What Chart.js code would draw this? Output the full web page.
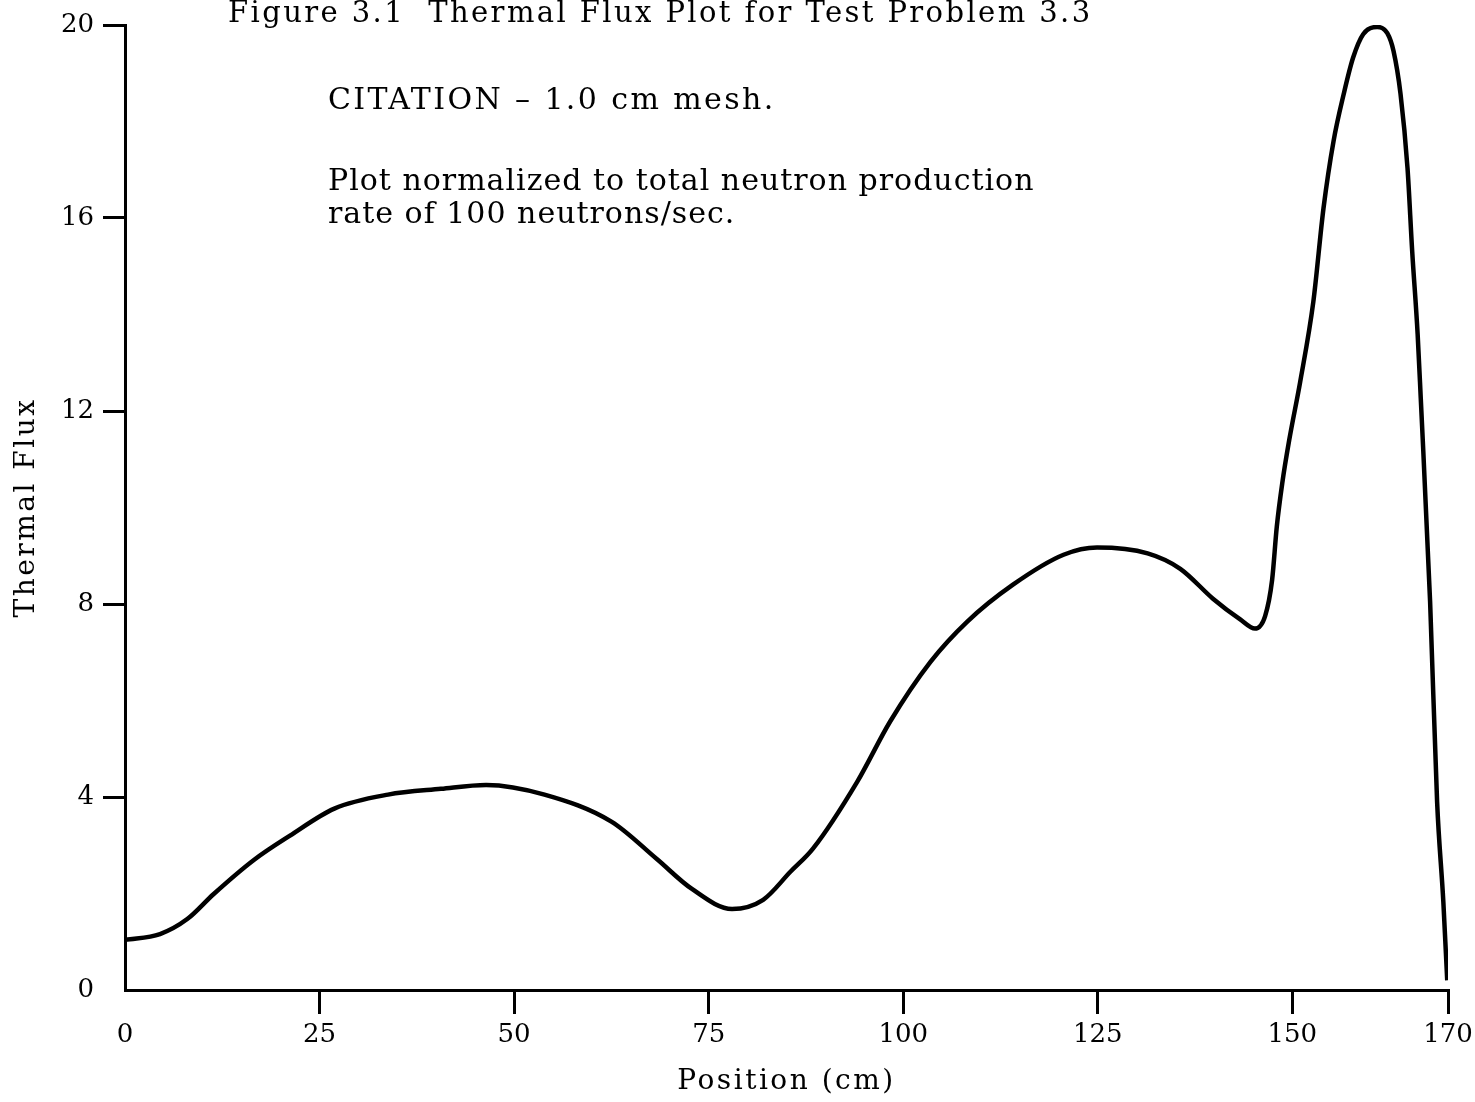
<!DOCTYPE html>
<html>
<head>
<meta charset="utf-8">
<title>Thermal Flux Plot</title>
<script src="https://cdn.jsdelivr.net/npm/chart.js@4.4.1/dist/chart.umd.min.js"></script>
<style>
  html, body { margin: 0; padding: 0; background: #fff; }
  #wrap { width: 1475px; height: 1102px; position: relative; }
</style>
</head>
<body>
<div id="wrap"><canvas id="fluxChart"></canvas></div>
<script>
// values
const positions = [0, 4.5, 8.0, 11.4, 16.6, 21.2, 26.9, 33.8, 40.6, 46.4, 53.9, 62.5, 68.3, 72.8, 78.0,
    82.0, 85.5, 88.4, 94.1, 98.3, 103.5, 108.2, 114.1, 120.6, 124.9, 131.4, 135.6, 139.8, 143.3,
    145.2, 146.5, 147.4, 148.0, 148.7, 149.6, 151.0, 152.7, 154.0, 155.3, 156.6, 157.8, 159.1,
    160.9, 162.2, 163.0, 163.9, 164.8, 165.4, 166.1, 166.5, 167.7, 168.6, 169.4, 169.9];
const thermalFlux = [1.04, 1.16, 1.47, 1.99, 2.70, 3.20, 3.76, 4.05, 4.17, 4.25, 4.05, 3.49, 2.72, 2.10, 1.68,
    1.87, 2.45, 2.93, 4.32, 5.56, 6.80, 7.63, 8.40, 9.02, 9.17, 9.05, 8.73, 8.11, 7.68,
    7.49, 7.75, 8.5, 9.6, 10.5, 11.4, 12.6, 14.27, 16.2, 17.6, 18.57, 19.32, 19.81,
    19.96, 19.83, 19.46, 18.57, 17.03, 15.31, 13.59, 12.26, 8.05, 3.9, 1.83, 0.2];
const xTicks = [0, 25, 50, 75, 100, 125, 150, 170];
const yTicks = [0, 4, 8, 12, 16, 20];

const figureTitle = 'Figure 3.1  Thermal Flux Plot for Test Problem 3.3';
const notes = [
    'CITATION \u2013 1.0 cm mesh.',
    'Plot normalized to total neutron production',
    'rate of 100 neutrons/sec.'
];

const serif = '"DejaVu Serif", "Liberation Serif", serif';

// hides the tick mark at the corner (value 0)
const tickColor = ctx => (ctx.tick && ctx.tick.value === 0) ? 'rgba(0,0,0,0)' : '#000';

// axis titles in the scan are spaced out, tick labels are not
function spaceTitle(scale) {
    if (scale._spacedTitle) return;
    const drawTitle = scale.drawTitle.bind(scale);
    scale.drawTitle = () => {
        scale.ctx.letterSpacing = '2.5px';
        drawTitle();
        scale.ctx.letterSpacing = '0px';
    };
    scale._spacedTitle = true;
}

// caption and the notes inside the plot
const notesPlugin = {
    id: 'notes',
    afterDraw(chart) {
        const ctx = chart.ctx;
        const area = chart.chartArea;
        ctx.save();
        ctx.fillStyle = '#000';
        ctx.textBaseline = 'alphabetic';
        ctx.textAlign = 'left';
        ctx.font = '29px ' + serif;
        ctx.letterSpacing = '2.4px';
        ctx.fillText(figureTitle, 228, 22);
        ctx.font = '30px ' + serif;
        ctx.letterSpacing = '2.4px';
        ctx.fillText(notes[0], area.left + 203, 109);
        ctx.letterSpacing = '1px';
        ctx.fillText(notes[1], area.left + 203, 190);
        ctx.fillText(notes[2], area.left + 203, 223);
        ctx.restore();
    }
};

const points = positions.map((p, i) => ({ x: p, y: thermalFlux[i] }));

new Chart(document.getElementById('fluxChart'), {
    type: 'line',
    data: {
        datasets: [{
            label: 'Thermal Flux',
            data: points,
            borderColor: '#000',
            borderWidth: 4.5,
            pointRadius: 0,
            fill: false,
            cubicInterpolationMode: 'monotone'
        }]
    },
    options: {
        responsive: true,
        maintainAspectRatio: false,
        animation: false,
        layout: { padding: { top: 25, right: 27, left: 0, bottom: 0 } },
        plugins: {
            legend: { display: false },
            tooltip: { enabled: false }
        },
        scales: {
            x: {
                type: 'linear',
                min: 0,
                max: 170,
                afterBuildTicks: scale => { scale.ticks = xTicks.map(v => ({ value: v })); },
                afterFit: scale => {
                    scale.height = 112;
                    scale.paddingRight = 0;
                    scale.paddingLeft = 0;
                    spaceTitle(scale);
                },
                border: { display: true, color: '#000', width: 3 },
                grid: { drawOnChartArea: false, drawTicks: true, tickLength: 24, lineWidth: 3, color: tickColor },
                ticks: { autoSkip: false, maxRotation: 0, padding: 6, color: '#000', font: { family: serif, size: 26 } },
                title: { display: true, text: 'Position (cm)', color: '#000', font: { family: serif, size: 28 }, padding: { top: 0, bottom: 3 } }
            },
            y: {
                min: 0,
                max: 20,
                afterBuildTicks: scale => { scale.ticks = yTicks.map(v => ({ value: v })); },
                afterFit: scale => {
                    scale.width = 125;
                    spaceTitle(scale);
                },
                border: { display: true, color: '#000', width: 3 },
                grid: { drawOnChartArea: false, drawTicks: true, tickLength: 22, lineWidth: 3, color: tickColor },
                ticks: { autoSkip: false, padding: 9, color: '#000', font: { family: serif, size: 26 } },
                title: { display: true, text: 'Thermal Flux', color: '#000', font: { family: serif, size: 28 }, padding: { top: 10, bottom: 0 } }
            }
        }
    },
    plugins: [notesPlugin]
});
</script>
</body>
</html>
